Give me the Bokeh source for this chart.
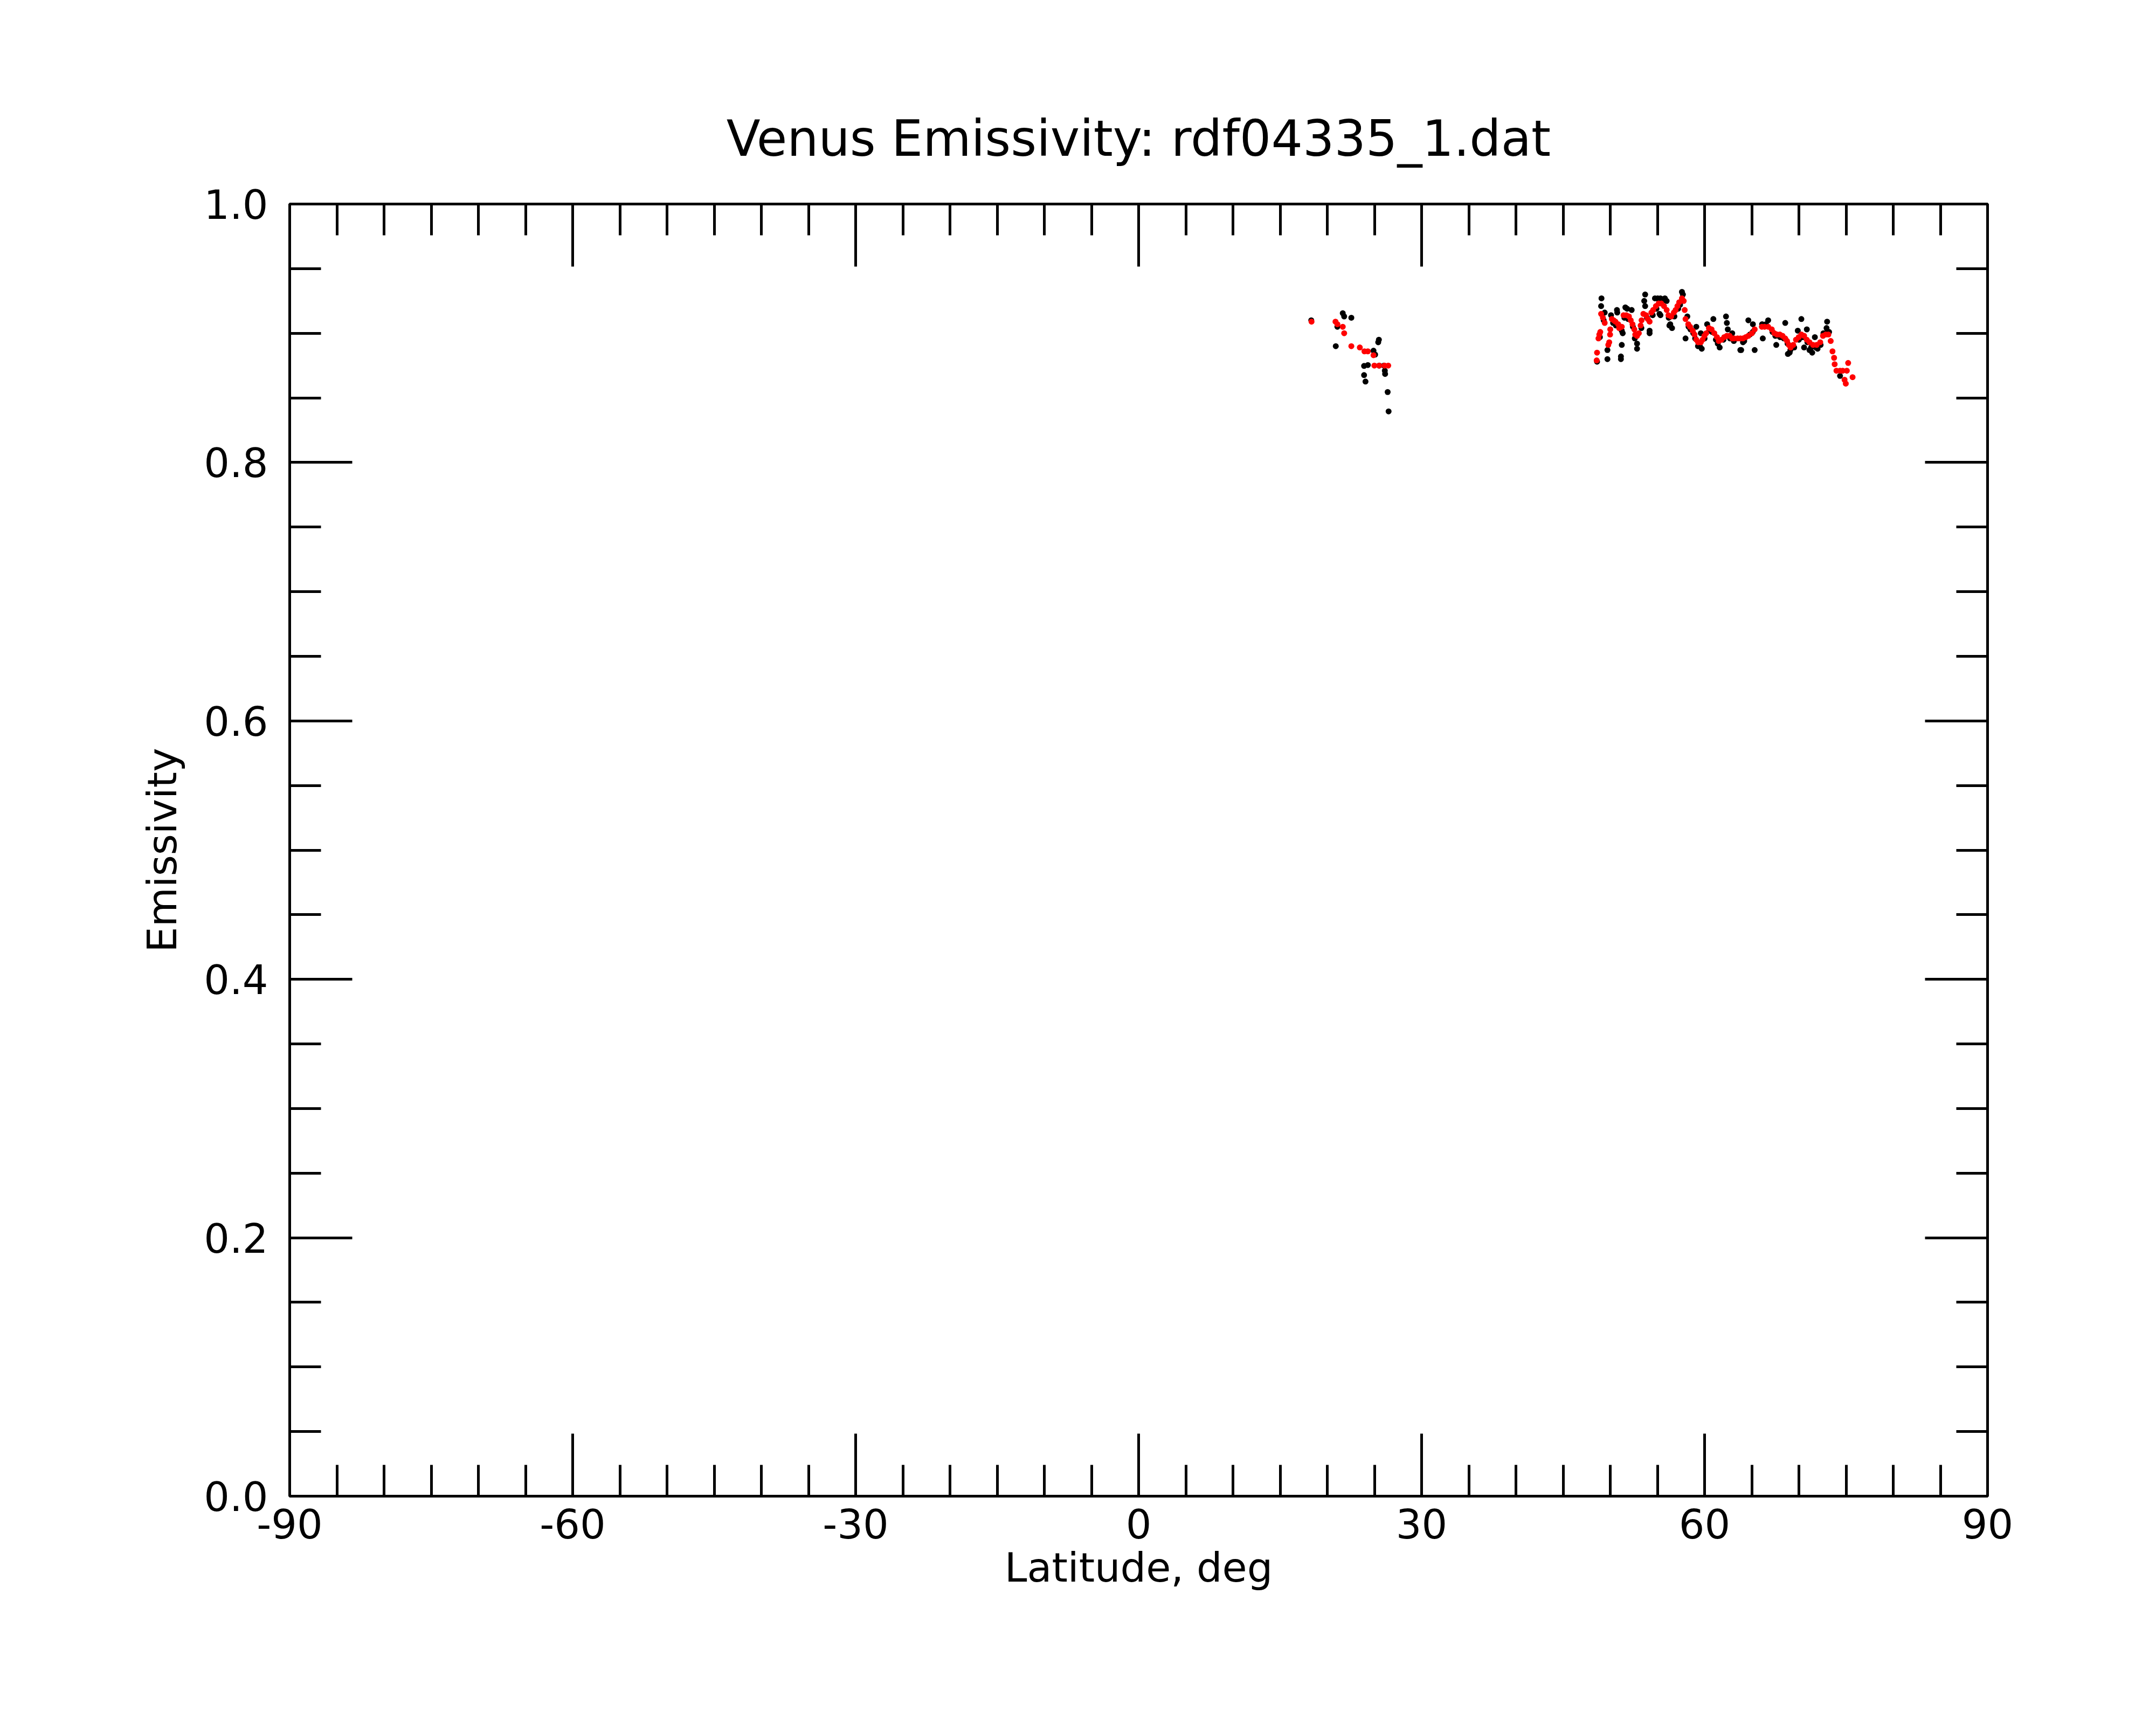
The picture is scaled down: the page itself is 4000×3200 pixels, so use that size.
from bokeh.plotting import figure
from bokeh.models import Range1d, LinearAxis, SingleIntervalTicker, PrintfTickFormatter
from bokeh.embed import file_html
from bokeh.resources import INLINE

# ---- data ----
black_lat = [18.3, 21.64, 21.79, 22.55, 21.07, 20.9, 25.47, 25.4, 24.9, 25.07, 23.9, 24.3, 23.9, 24.05,
             26.1, 26.13, 26.4, 26.5, 25.5, 26.0,
             49.07, 49.03, 49.41, 49.7, 49.7, 50.08, 50.71, 50.74, 51.22, 51.32, 51.22, 51.13, 51.13,
             51.6, 51.79, 52.27, 52.84, 52.84, 53.7, 53.6, 53.7, 54.17, 54.17, 54.74, 55.03, 55.32,
             55.79, 55.98, 55.22, 55.32, 56.27,
             57.6, 57.7, 56.36, 56.55, 58.17, 57.98, 59.12, 59.6, 59.7, 60.27, 60.93, 61.6, 62.27,
             62.36, 62.46, 62.93, 63.79,
             64.64, 65.12, 63.88, 65.31, 66.17, 66.74, 67.6, 68.55, 68.83, 69.02, 70.26, 70.55, 69.88,
             71.12, 64.07,
             72.99, 72.93, 71.69, 71.41, 71.98, 74.36, 70.84, 48.6,
             48.9, 49.3, 50.3, 50.6, 51.5, 51.9, 52.4, 52.6, 53.3, 53.9, 54.5, 54.9, 55.2, 55.5, 56.2,
             56.8, 57.2, 57.4, 58.3, 58.5, 58.8, 59.0, 59.3, 59.5, 60.0, 60.5, 60.8, 61.2, 61.4, 62.0,
             62.7, 63.1, 64.2, 64.8, 65.1, 66.1, 66.5, 67.2, 67.5, 68.0, 68.4, 68.8, 69.1, 69.5, 70.0,
             70.4, 70.9, 71.3, 71.8, 72.3, 72.6, 73.0, 73.2]
black_em = [0.910, 0.9155, 0.913, 0.912, 0.905, 0.890, 0.895, 0.893, 0.8865, 0.8835, 0.8747, 0.8754, 0.8676, 0.8626,
            0.871, 0.8685, 0.8545, 0.8395, 0.875, 0.875,
            0.927, 0.921, 0.916, 0.887, 0.880, 0.914, 0.918, 0.916, 0.902, 0.900, 0.891, 0.882, 0.880,
            0.920, 0.919, 0.918, 0.892, 0.888, 0.930, 0.925, 0.921, 0.902, 0.900, 0.927, 0.927, 0.927,
            0.927, 0.925, 0.915, 0.914, 0.906,
            0.932, 0.930, 0.907, 0.904, 0.913, 0.896, 0.905, 0.900, 0.888, 0.907, 0.911, 0.889, 0.913,
            0.908, 0.903, 0.900, 0.887,
            0.910, 0.907, 0.887, 0.887, 0.896, 0.910, 0.891, 0.908, 0.884, 0.885, 0.911, 0.889, 0.902,
            0.887, 0.893,
            0.909, 0.904, 0.897, 0.885, 0.888, 0.867, 0.903, 0.878,
            0.897, 0.910, 0.908, 0.906, 0.912, 0.911, 0.905, 0.896, 0.904, 0.912, 0.914, 0.919, 0.925,
            0.925, 0.912, 0.913, 0.919, 0.922, 0.905, 0.903, 0.900, 0.896, 0.890, 0.890, 0.896, 0.902,
            0.901, 0.895, 0.892, 0.895, 0.896, 0.894, 0.894, 0.899, 0.901, 0.907, 0.907, 0.901, 0.898,
            0.897, 0.896, 0.892, 0.887, 0.889, 0.895, 0.897, 0.893, 0.889, 0.889, 0.891, 0.900, 0.901,
            0.901]

red_lat = [18.33, 20.87, 21.07, 21.64, 21.79, 22.55, 23.45, 23.94, 24.3, 24.9, 24.99, 25.5, 26.07, 26.46,
           48.56, 48.6, 48.75, 48.84, 48.94, 49.03, 49.22, 49.41, 49.79, 49.89, 49.98, 50.0, 50.17, 50.36,
           50.55, 50.84, 50.94, 51.22, 51.41, 51.7, 51.98, 52.17, 52.36, 52.55, 52.65, 52.84, 53.03, 53.22,
           53.32, 53.51, 53.79, 53.98, 54.17, 54.36, 54.55, 54.84, 55.13, 55.41, 55.7, 55.98, 56.17, 56.46,
           56.74, 56.93, 57.12, 57.31, 57.6, 57.79, 57.89, 57.98, 58.27, 58.46, 58.74, 58.93, 59.12, 59.31,
           59.6, 59.79, 59.98, 60.17, 60.46, 60.74, 61.03, 61.31, 61.5, 61.79, 62.08, 62.36, 62.65, 62.93,
           63.12, 63.5, 63.79, 64.07, 64.36, 64.64, 65.02, 65.31, 66.07, 66.36, 66.74, 67.12, 67.4, 67.69,
           67.98, 68.26, 68.55, 68.74, 68.93, 69.12, 69.4, 69.69, 69.98, 70.26, 70.55, 70.83, 71.12, 71.5,
           71.88, 72.26, 72.55, 72.84, 73.12, 73.37, 73.56, 73.73, 73.79, 73.98, 74.36, 74.64, 75.08, 75.22,
           74.84, 74.97, 75.69]
red_em = [0.909, 0.909, 0.907, 0.905, 0.900, 0.890, 0.889, 0.886, 0.886, 0.883, 0.875, 0.875, 0.875, 0.875,
          0.879, 0.885, 0.896, 0.899, 0.901, 0.915, 0.912, 0.908, 0.891, 0.893, 0.899, 0.903, 0.911, 0.910,
          0.909, 0.907, 0.904, 0.905, 0.914, 0.914, 0.913, 0.910, 0.907, 0.903, 0.899, 0.898, 0.900, 0.906,
          0.910, 0.915, 0.914, 0.911, 0.909, 0.916, 0.918, 0.921, 0.923, 0.923, 0.921, 0.918, 0.914, 0.913,
          0.916, 0.918, 0.921, 0.924, 0.927, 0.925, 0.918, 0.911, 0.907, 0.905, 0.902, 0.899, 0.895, 0.893,
          0.893, 0.895, 0.898, 0.900, 0.904, 0.903, 0.900, 0.897, 0.894, 0.895, 0.897, 0.898, 0.898, 0.896,
          0.896, 0.896, 0.896, 0.896, 0.897, 0.898, 0.900, 0.903, 0.905, 0.905, 0.905, 0.903, 0.900, 0.899,
          0.899, 0.898, 0.896, 0.894, 0.891, 0.889, 0.891, 0.895, 0.897, 0.899, 0.898, 0.895, 0.893, 0.891,
          0.891, 0.893, 0.898, 0.899, 0.899, 0.894, 0.886, 0.881, 0.876, 0.871, 0.871, 0.871, 0.871, 0.877,
          0.864, 0.861, 0.866]

title_text = "Venus Emissivity: rdf04335_1.dat"
x_label = "Latitude, deg"
y_label = "Emissivity"

FONT = "DejaVu Sans"
LW = 5

p = figure(width=3984, height=3184, output_backend="svg", toolbar_location=None,
           x_range=Range1d(-90, 90), y_range=Range1d(0, 1),
           x_axis_location=None, y_axis_location=None,
           min_border_left=537, min_border_right=297, min_border_top=378, min_border_bottom=409)
p.grid.visible = False
p.background_fill_color = "white"
p.border_fill_color = "white"
p.outline_line_color = "black"
p.outline_line_width = LW

p.title.text = title_text
p.title.align = "center"
p.title.text_font = FONT
p.title.text_font_size = "92px"
p.title.text_font_style = "normal"
p.title.text_color = "black"
p.title.standoff = 136


def make_axis(kind, show_labels, label=None):
    if kind == "x":
        ticker = SingleIntervalTicker(interval=30, num_minor_ticks=6)
        fmt = PrintfTickFormatter(format="%d")
    else:
        ticker = SingleIntervalTicker(interval=0.2, num_minor_ticks=4)
        fmt = PrintfTickFormatter(format="%.1f")
    ax = LinearAxis(ticker=ticker, formatter=fmt)
    ax.axis_line_width = LW
    ax.axis_line_color = "black"
    ax.major_tick_line_width = LW
    ax.minor_tick_line_width = LW
    ax.major_tick_line_color = "black"
    ax.minor_tick_line_color = "black"
    ax.major_tick_in = 116
    ax.major_tick_out = 0
    ax.minor_tick_in = 58
    ax.minor_tick_out = 0
    ax.major_label_text_font = FONT
    ax.major_label_text_color = "black"
    ax.axis_label_text_font = FONT
    ax.axis_label_text_color = "black"
    ax.axis_label_text_font_style = "normal"
    if show_labels:
        ax.major_label_text_font_size = "75px"
        ax.axis_label = label
        ax.axis_label_text_font_size = "75px"
    else:
        ax.major_label_text_font_size = "0px"
        ax.major_label_text_alpha = 0
        ax.major_label_standoff = 0
    return ax


xb = make_axis("x", True, x_label)
xb.major_label_standoff = 23
xb.axis_label_standoff = 7
p.add_layout(xb, "below")

yl = make_axis("y", True, y_label)
yl.major_label_standoff = 40
yl.axis_label_standoff = 30
p.add_layout(yl, "left")

p.add_layout(make_axis("x", False), "above")
p.add_layout(make_axis("y", False), "right")

p.scatter(black_lat, black_em, size=11, color="black", line_width=0)
p.scatter(red_lat, red_em, size=11, color="red", line_width=0)

open("out.html", "w").write(file_html(p, INLINE))
